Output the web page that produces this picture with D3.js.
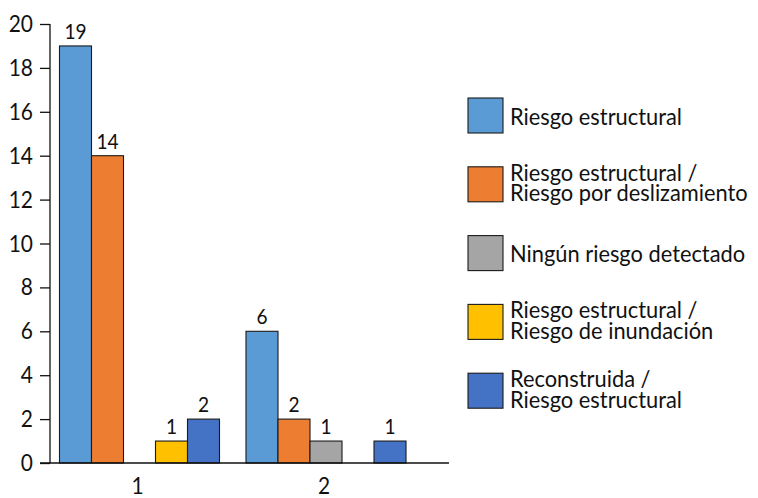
<!DOCTYPE html>
<html>
<head>
<meta charset="utf-8">
<script src="https://cdn.jsdelivr.net/npm/d3@7"></script>
<style>
  html, body { margin: 0; padding: 0; background: #fff; }
  svg text { font-family: Lato, "Open Sans", sans-serif; fill: #111; }
</style>
</head>
<body>
<svg id="chart" width="758" height="498"></svg>
<script>
// Categories on the x axis
const categories = ["1", "2"];
// Series names (each entry split into display lines for the legend)
const seriesNames = [
  ["Riesgo estructural"],
  ["Riesgo estructural /", "Riesgo por deslizamiento"],
  ["Ningún riesgo detectado"],
  ["Riesgo estructural /", "Riesgo de inundación"],
  ["Reconstruida /", "Riesgo estructural"]
];
const seriesColors = ["#5B9BD5", "#ED7D31", "#A5A5A5", "#FFC000", "#4472C4"];
// Values per series, one per category (null = no bar)
const riesgoEstructural = [19, 6];
const riesgoDeslizamiento = [14, 2];
const ningunRiesgo = [null, 1];
const riesgoInundacion = [1, null];
const reconstruida = [2, 1];
const seriesValues = [riesgoEstructural, riesgoDeslizamiento, ningunRiesgo, riesgoInundacion, reconstruida];
const yTicks = [0, 2, 4, 6, 8, 10, 12, 14, 16, 18, 20];

const svg = d3.select("#chart");
const sx = 0.91; // horizontal condensing of the typeface

function condensedText(sel, x, y, anchor) {
  return sel.append("text")
    .attr("text-anchor", anchor)
    .attr("transform", `translate(${x},${y}) scale(${sx},1)`);
}

const y = d3.scaleLinear().domain([0, 20]).range([463, 24]);
const x0 = d3.scaleBand().domain(categories).range([46.25, 419.25])
  .paddingInner(0.142).paddingOuter(0.071);
const x1 = d3.scaleBand().domain(d3.range(seriesNames.length)).range([0, x0.bandwidth()]);

// Y axis
const yAxis = svg.append("g").attr("transform", "translate(50,0)")
  .call(d3.axisLeft(y).tickValues(yTicks).tickSize(10).tickPadding(7).tickFormat(d3.format("d")));
yAxis.select(".domain").attr("d", `M0,${y(20)}V${y(0)}`).attr("stroke", "#111").attr("stroke-width", 1.3);
yAxis.selectAll(".tick line").attr("stroke", "#111").attr("stroke-width", 1.3);
yAxis.selectAll(".tick text").remove();
yTicks.forEach(t => {
  condensedText(svg, 33, y(t) + 8, "end").attr("font-size", 23).text(t);
});

// Bars
categories.forEach((c, ci) => {
  seriesValues.forEach((vals, si) => {
    const v = vals[ci];
    if (v == null) return;
    const bx = x0(c) + x1(si);
    svg.append("rect")
      .attr("x", bx).attr("y", y(v))
      .attr("width", x1.bandwidth()).attr("height", y(0) - y(v))
      .attr("fill", seriesColors[si])
      .attr("stroke", "#1a1a1a").attr("stroke-width", 1.1);
    condensedText(svg, bx + x1.bandwidth() / 2, y(v) - 7, "middle")
      .attr("font-size", 21).text(v);
  });
});

// X axis baseline
svg.append("line").attr("x1", 40).attr("x2", 449).attr("y1", y(0)).attr("y2", y(0))
  .attr("stroke", "#111").attr("stroke-width", 1.3);
categories.forEach(c => {
  condensedText(svg, x0(c) + x0.bandwidth() / 2 - 2, 494, "middle").attr("font-size", 23).text(c);
});

// Legend
const legendTop = 98, legendStep = 68.8, sq = 35;
seriesNames.forEach((lines, i) => {
  const top = legendTop + i * legendStep;
  svg.append("rect").attr("x", 468).attr("y", top).attr("width", sq).attr("height", sq)
    .attr("fill", seriesColors[i]).attr("stroke", "#1a1a1a").attr("stroke-width", 1.1);
  const cy = top + sq / 2;
  const base = lines.length === 1 ? cy + 9 : cy - 3.5;
  lines.forEach((ln, j) => {
    condensedText(svg, 510, base + j * 20.5, "start").attr("font-size", 24).text(ln);
  });
});
</script>
</body>
</html>
